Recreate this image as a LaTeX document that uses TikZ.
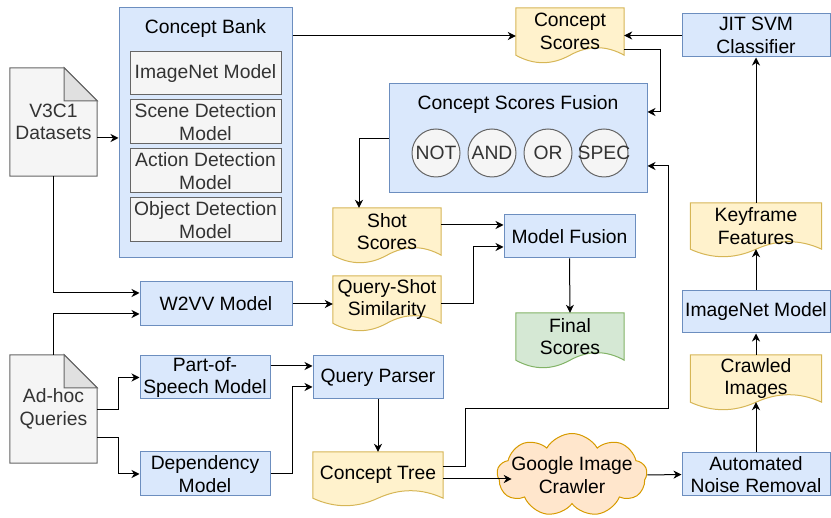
\documentclass[tikz,border=0pt]{standalone}
\usepackage{fontspec}
\setmainfont{Liberation Sans}
\usetikzlibrary{arrows.meta,calc,backgrounds,shapes.symbols}

\definecolor{bluefill}{HTML}{DAE8FC}
\definecolor{blueline}{HTML}{6C8EBF}
\definecolor{yfill}{HTML}{FFF2CC}
\definecolor{yline}{HTML}{D6B656}
\definecolor{gfill}{HTML}{D5E8D4}
\definecolor{gline}{HTML}{82B366}
\definecolor{ofill}{HTML}{FFE6CC}
\definecolor{oline}{HTML}{D79B00}
\definecolor{grayfill}{HTML}{F5F5F5}
\definecolor{grayline}{HTML}{666666}
\definecolor{graytext}{HTML}{333333}
\definecolor{foldfill}{HTML}{E0E0E0}

% wavy document outline round a node
\newcommand{\wavedoc}[2]{%
  \path[#2] (#1.south west) -- (#1.north west) -- (#1.north east) -- (#1.south east)
    .. controls ($(#1.south east)!0.1667!(#1.south west)+(0,10pt)$) and ($(#1.south east)!0.3333!(#1.south west)+(0,10pt)$) .. ($(#1.south east)!0.5!(#1.south west)$)
    .. controls ($(#1.south east)!0.6667!(#1.south west)+(0,-10pt)$) and ($(#1.south east)!0.8333!(#1.south west)+(0,-10pt)$) .. (#1.south west) -- cycle;}

% sheet with folded corner round a node
\newcommand{\foldnote}[1]{%
  \path[sheet] (#1.south west) -- (#1.north west) -- ([xshift=-33pt]#1.north east) -- ([yshift=-33pt]#1.north east) -- (#1.south east) -- cycle;
  \path[sheetfold] ([xshift=-33pt]#1.north east) -- ([xshift=-33pt,yshift=-33pt]#1.north east) -- ([yshift=-33pt]#1.north east) -- cycle;}

\begin{document}
\begin{tikzpicture}[
  x=1pt, y=-1pt,
  font=\fontsize{19.3}{22.5}\selectfont,
  box/.style={draw=blueline, fill=bluefill, line width=1pt, align=center, inner sep=1pt},
  gbox/.style={draw=grayline, fill=grayfill, text=graytext, line width=1pt, align=center,
    inner sep=1pt, minimum width=151pt, minimum height=43pt},
  doc/.style={align=center, inner sep=1pt, minimum height=47pt},
  ydoc/.style={draw=yline, fill=yfill, line width=1pt},
  grdoc/.style={draw=gline, fill=gfill, line width=1pt},
  sheet/.style={draw=grayline, fill=grayfill, line width=1pt},
  sheetfold/.style={draw=grayline, fill=foldfill, line width=1pt},
  stext/.style={text=graytext, align=center, minimum width=87pt, minimum height=108pt, inner sep=0pt},
  op/.style={circle, draw=grayline, fill=grayfill, text=graytext, line width=1pt,
    minimum size=48pt, inner sep=0pt},
  arr/.style={line width=1pt, -{Stealth[length=8pt,width=8pt,inset=2.5pt]}}
]
\useasboundingbox (0,0) rectangle (831,518);

% --- inputs ---
\node[stext] (v3c1) at (53.5,122) {V3C1\\Datasets};
\node[stext] (adhoc) at (53.5,409) {Ad-hoc\\Queries};

% --- concept bank ---
\node[box, minimum width=173pt, minimum height=250pt] (bank) at (205.5,133) {};
\node (banktitle) at (205.5,29) {Concept Bank};
\node[gbox] (inet) at (205.5,73.5) {ImageNet Model};
\node[gbox, minimum height=44pt] (scene) at (205.5,122) {Scene Detection\\Model};
\node[gbox, minimum height=44pt] (action) at (205.5,171) {Action Detection\\Model};
\node[gbox, minimum height=44pt] (object) at (205.5,220) {Object Detection\\Model};

% --- query side ---
\node[box, minimum width=152pt, minimum height=44pt] (w2vv) at (216,304) {W2VV Model};
\node[box, minimum width=130pt, minimum height=43pt] (pos) at (205,377.5) {Part-of-\\Speech Model};
\node[box, minimum width=130pt, minimum height=44pt] (dep) at (205,474) {Dependency\\Model};
\node[box, minimum width=130pt, minimum height=43pt] (parser) at (378,377.5) {Query Parser};
\node[doc, minimum width=130pt, minimum height=46pt] (ctree) at (378,475) {Concept Tree};
\node[cloud, cloud puffs=9, cloud puff arc=120, cloud ignores aspect, draw=oline, fill=ofill,
  line width=1pt, minimum width=150pt, minimum height=83pt, inner sep=0pt,
  label={[align=center]center:Google Image\\Crawler}] (crawler) at (572,475) {};

% --- fusion ---
\node[box, minimum width=258pt, minimum height=109pt] (fusion) at (518,138.5) {};
\node (fusiontitle) at (518,105) {Concept Scores Fusion};
\node[op] (opnot) at (436,153) {NOT};
\node[op] (opand) at (492,153) {AND};
\node[op] (opor) at (548,153) {OR};
\node[op] (opspec) at (604,153) {\makebox[0pt]{SPEC}};
\node[doc, minimum width=108pt] (cscores) at (570,31.5) {Concept\\Scores};
\node[doc, minimum width=108pt] (shot) at (387,231.5) {Shot\\Scores};
\node[doc, minimum width=108pt] (qss) at (387,299.5) {Query-Shot\\Similarity};
\node[box, minimum width=131pt, minimum height=43pt] (mfusion) at (569.5,236.5) {Model Fusion};
\node[doc, minimum width=108pt] (final) at (570,336.5) {Final\\Scores};

% --- JIT classifier branch ---
\node[box, minimum width=148pt, minimum height=43pt] (anr) at (756,474.5) {Automated\\Noise Removal};
\node[doc, minimum width=131pt] (crawled) at (756,378.5) {Crawled\\Images};
\node[box, minimum width=148pt, minimum height=42pt] (inet2) at (756,312) {ImageNet Model};
\node[doc, minimum width=131pt, minimum height=46pt] (keyframe) at (756,226) {Keyframe\\Features};
\node[box, minimum width=148pt, minimum height=43pt] (jit) at (756,35.5) {JIT SVM\\Classifier};

% --- document outlines ---
\begin{scope}[on background layer]
  \foldnote{v3c1}
  \foldnote{adhoc}
  \wavedoc{cscores}{ydoc}
  \wavedoc{shot}{ydoc}
  \wavedoc{qss}{ydoc}
  \wavedoc{ctree}{ydoc}
  \wavedoc{crawled}{ydoc}
  \wavedoc{keyframe}{ydoc}
  \wavedoc{final}{grdoc}
\end{scope}

% --- connectors ---
\draw[arr] (v3c1.east |- 0,138) -- (bank.west |- 0,138);
\draw[arr] (v3c1.south) |- (w2vv.west |- 0,293);
\draw[arr] (adhoc.north) |- (w2vv.west |- 0,314);
\draw[arr] (adhoc.east |- 0,410) -- (118,410) |- (pos.west);
\draw[arr] (adhoc.east |- 0,438) -- (118,438) |- (dep.west);
\draw[arr] (pos.east |- 0,366) -- (parser.west |- 0,366);
\draw[arr] (dep.east) -- (292,474) |- (parser.west |- 0,387);
\draw[arr] (parser.south) -- (ctree.north);
\draw[arr] (ctree.east |- 0,467) -- (465,467) |- (668,409) |- (fusion.east |- 0,166);
\draw[arr] (ctree.east |- 0,479) -- ([xshift=15pt]crawler.west |- 0,479);
\draw[arr] (crawler.east) -- (anr.west);
\draw[arr] (anr.north) -- (crawled.south);
\draw[arr] (crawled.north) -- (inet2.south);
\draw[arr] (inet2.north) -- (keyframe.south);
\draw[arr] (keyframe.north) -- (jit.south);
\draw[arr] (jit.west) -- (cscores.east |- jit.west);
\draw[arr] (bank.east |- 0,36) -- (cscores.west |- 0,36);
\draw[arr] (cscores.east |- 0,50) -- (660,50) |- (fusion.east |- 0,112);
\draw[arr] (fusion.west) -| ([xshift=-28pt]shot.north);
\draw[arr] (shot.east |- 0,225) -- (mfusion.west |- 0,225);
\draw[arr] (w2vv.east) -- (qss.west |- w2vv.east);
\draw[arr] (qss.east |- 0,304) -- (473,304) |- (mfusion.west |- 0,247);
\draw[arr] (mfusion.south) -- (final.north);
\end{tikzpicture}
\end{document}
